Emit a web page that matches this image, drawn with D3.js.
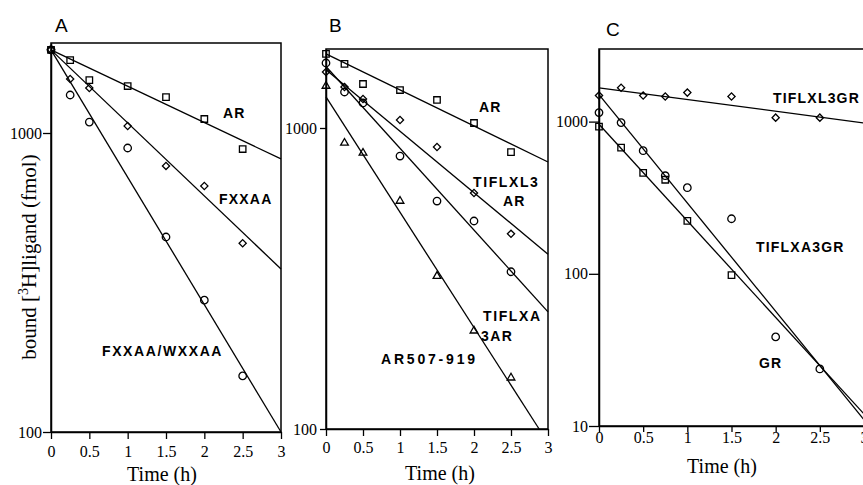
<!DOCTYPE html>
<html>
<head>
<meta charset="utf-8">
<script src="https://cdn.jsdelivr.net/npm/d3@7"></script>
<style>
  body { margin: 0; background: #fff; }
  svg { display: block; }
</style>
</head>
<body>
<svg id="chart" width="863" height="485"></svg>
<script>
// sampling times (h)
const timesAB = [0, 0.25, 0.5, 1, 1.5, 2, 2.5];
const timesC = [0, 0.25, 0.5, 0.75, 1, 1.5, 2, 2.5];
const timesGR = [0, 0.25, 0.5, 0.75, 1, 1.5];
const timeTicks = [0, 0.5, 1, 1.5, 2, 2.5, 3];

// panel A, bound ligand (fmol)
const aAR = [1897, 1754, 1503, 1436, 1319, 1114, 884];
const aFXXAA = [1897, 1516, 1414, 1055, 776, 665, 428];
const aFXXAAWXXAA = [1897, 1340, 1088, 891, 449, 276, 154];

// panel B
const bAR = [1762, 1633, 1400, 1337, 1239, 1039, 832];
const bTIFLXL3AR = [1535, 1368, 1248, 1063, 865, 608, 445];
const bTIFLXA3AR = [1644, 1317, 1211, 807, 572, 491, 333];
const bAR507 = [1379, 892, 826, 572, 322, 212, 148];

// panel C
const cTIFLXL3GR = [1483, 1670, 1483, 1461, 1551, 1461, 1062, 1062];
const cTIFLXA3GR = [1146, 985, 644, 441, 368, 230, 38.5, 23.7];
const cGR = [927, 674, 461, 415, 223, 98];

// fitted lines: [time, fmol] end points
const aARFit = [[0, 1897], [3, 819]];
const aFXXAAFit = [[0, 1897], [3, 351]];
const aFXXAAWXXAAFit = [[0, 1897], [3, 100]];
const bARFit = [[0, 1762], [3, 771]];
const bTIFLXL3ARFit = [[0, 1560], [3, 381]];
const bTIFLXA3ARFit = [[0, 1600], [3, 245]];
const bAR507Fit = [[0, 1268], [2.88, 100]];
const cTIFLXL3GRFit = [[0, 1667], [3, 980]];
const cTIFLXA3GRFit = [[0, 1505], [3, 11]];
const cGRFit = [[0, 960], [3, 12]];

const panels = [
  {
    letter: "A", yDomain: [100, 2000], yTicks: [100, 1000],
    series: [
      { symbol: "square", times: timesAB, values: aAR, fit: aARFit },
      { symbol: "diamond", times: timesAB, values: aFXXAA, fit: aFXXAAFit },
      { symbol: "circle", times: timesAB, values: aFXXAAWXXAA, fit: aFXXAAWXXAAFit }
    ],
    labels: ["AR", "FXXAA", "FXXAA/WXXAA"]
  },
  {
    letter: "B", yDomain: [100, 1830], yTicks: [100, 1000],
    series: [
      { symbol: "square", times: timesAB, values: bAR, fit: bARFit },
      { symbol: "diamond", times: timesAB, values: bTIFLXL3AR, fit: bTIFLXL3ARFit },
      { symbol: "circle", times: timesAB, values: bTIFLXA3AR, fit: bTIFLXA3ARFit },
      { symbol: "triangle", times: timesAB, values: bAR507, fit: bAR507Fit }
    ],
    labels: ["AR", "TIFLXL3", "AR", "TIFLXA", "3AR", "AR507-919"]
  },
  {
    letter: "C", yDomain: [10, 3000], yTicks: [10, 100, 1000],
    series: [
      { symbol: "diamond", times: timesC, values: cTIFLXL3GR, fit: cTIFLXL3GRFit },
      { symbol: "circle", times: timesC, values: cTIFLXA3GR, fit: cTIFLXA3GRFit },
      { symbol: "square", times: timesGR, values: cGR, fit: cGRFit }
    ],
    labels: ["TIFLXL3GR", "TIFLXA3GR", "GR"]
  }
];

// page layout (pixels)
const layout = [
  { left: 51, right: 281, top: 43, bottom: 432, xTick: 7, xPad: 7, yTick: 8, yPad: 1,
    timeX: 162, timeBase: 481, letterX: 55, letterY: 32,
    labelPos: [[223, 113, 1.2], [219, 199, 1.2], [102, 351, 1.6]] },
  { left: 326, right: 548, top: 49, bottom: 429, xTick: 7, xPad: 6, yTick: 6, yPad: 3,
    timeX: 440, timeBase: 480, letterX: 329, letterY: 32,
    labelPos: [[479, 107, 1.2], [473, 182, 1.6], [503, 201, 1.2], [483, 316, 1.6], [481, 336, 1.4], [381, 359, 2.8]] },
  { left: 599, right: 864, top: 49, bottom: 426, xTick: 6, xPad: 0, yTick: 10, yPad: 1,
    timeX: 722, timeBase: 473, letterX: 606, letterY: 36,
    labelPos: [[773, 98, 1.2], [756, 247, 1.2], [759, 363, 1.2]] }
];

const serif = "'Liberation Serif', 'Times New Roman', serif";
const sans = "'Liberation Sans', Arial, sans-serif";

const svg = d3.select("#chart");

const symbolPath = {
  square: d3.symbol().type(d3.symbolSquare).size(42)(),
  circle: d3.symbol().type(d3.symbolCircle).size(44)(),
  diamond: d3.symbol().type(d3.symbolSquare).size(26)(),
  triangle: d3.symbol().type(d3.symbolTriangle).size(26)()
};

panels.forEach((p, i) => {
  const L = layout[i];
  const x = d3.scaleLinear().domain([0, 3]).range([L.left, L.right]);
  const y = d3.scaleLog().domain(p.yDomain).range([L.bottom, L.top]);

  const g = svg.append("g");

  // frame
  g.append("rect")
    .attr("x", L.left)
    .attr("y", L.top)
    .attr("width", L.right - L.left)
    .attr("height", L.bottom - L.top)
    .attr("fill", "none")
    .attr("stroke", "#000")
    .attr("stroke-width", 1.5);

  // axes
  const xAxis = g.append("g")
    .attr("transform", `translate(0,${L.bottom})`)
    .call(d3.axisBottom(x).tickValues(timeTicks).tickFormat((d) => String(d))
      .tickSize(L.xTick).tickPadding(L.xPad).tickSizeOuter(0));
  const yAxis = g.append("g")
    .attr("transform", `translate(${L.left},0)`)
    .call(d3.axisLeft(y).tickValues(p.yTicks).tickFormat(d3.format("d"))
      .tickSize(L.yTick).tickPadding(L.yPad).tickSizeOuter(0));

  [xAxis, yAxis].forEach((a) => {
    a.select(".domain").attr("stroke-width", 1.5);
    a.selectAll(".tick line").attr("stroke-width", 1.3);
    a.selectAll("text")
      .attr("font-family", serif)
      .attr("font-size", 16)
      .attr("fill", "#000");
  });

  // fitted lines
  const line = d3.line().x((d) => x(d[0])).y((d) => y(d[1]));
  g.selectAll("path.fit")
    .data(p.series)
    .join("path")
    .attr("class", "fit")
    .attr("d", (s) => line(s.fit))
    .attr("fill", "none")
    .attr("stroke", "#000")
    .attr("stroke-width", 1.3);

  // data points
  p.series.forEach((s) => {
    g.append("g")
      .selectAll("path")
      .data(s.times.map((t, j) => [t, s.values[j]]))
      .join("path")
      .attr("d", symbolPath[s.symbol])
      .attr("transform", (d) =>
        `translate(${x(d[0])},${y(d[1])})` + (s.symbol === "diamond" ? " rotate(45)" : ""))
      .attr("fill", "none")
      .attr("stroke", "#000")
      .attr("stroke-width", 1.3);
  });

  // series labels
  g.selectAll("text.lab")
    .data(p.labels)
    .join("text")
    .attr("class", "lab")
    .attr("x", (d, j) => L.labelPos[j][0])
    .attr("y", (d, j) => L.labelPos[j][1] + 5)
    .attr("letter-spacing", (d, j) => L.labelPos[j][2])
    .attr("font-family", sans)
    .attr("font-weight", "bold")
    .attr("font-size", 14)
    .text((d) => d);

  // panel letter
  g.append("text")
    .attr("x", L.letterX)
    .attr("y", L.letterY)
    .attr("font-family", sans)
    .attr("font-size", 19)
    .text(p.letter);

  // x title
  g.append("text")
    .attr("x", L.timeX)
    .attr("y", L.timeBase)
    .attr("text-anchor", "middle")
    .attr("font-family", serif)
    .attr("font-size", 20)
    .text("Time (h)");
});

// y title
const yTitle = svg.append("text")
  .attr("transform", "translate(36,257) rotate(-90)")
  .attr("text-anchor", "middle")
  .attr("font-family", serif)
  .attr("font-size", 21);
yTitle.append("tspan").text("bound [");
yTitle.append("tspan").attr("font-size", 14).attr("dy", -8).text("3");
yTitle.append("tspan").attr("dy", 8).text("H]ligand (fmol)");
</script>
</body>
</html>
